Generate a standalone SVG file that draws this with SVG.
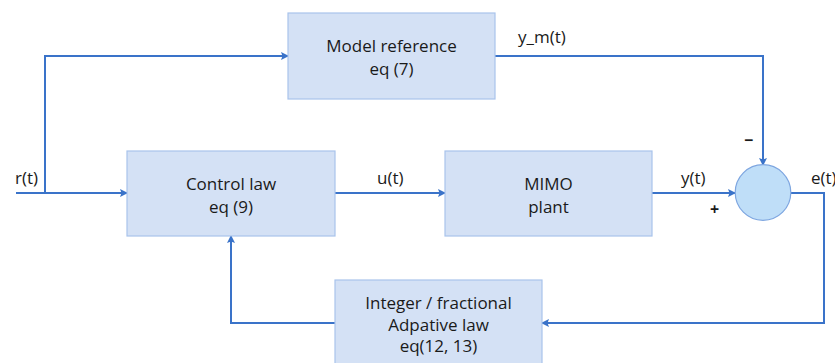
<svg xmlns="http://www.w3.org/2000/svg" width="835" height="363" viewBox="0 0 835 363">
  <style>
    .box { fill: #d4e1f5; stroke: #a9c4eb; stroke-width: 1.2; }
    .sum { fill: #bfdef8; stroke: #7ea6e0; stroke-width: 1.2; }
    .wire { fill: none; stroke: #3a73c9; stroke-width: 2; }
    text { font-family: "Open Sans", "Noto Sans", "DejaVu Sans", sans-serif; font-size: 17px; fill: #1a1a1a; }
    .c { text-anchor: middle; }
    .sign { font-weight: bold; font-size: 16px; }
  </style>
  <defs>
    <marker id="arr" viewBox="0 0 8 8" refX="7" refY="4" markerWidth="4" markerHeight="4" orient="auto" markerUnits="strokeWidth">
      <path d="M0,0 L8,4 L0,8 L1.5,4 Z" fill="#3a73c9"/>
    </marker>
  </defs>

  <!-- connectors -->
  <g id="connectors">
    <path class="wire" d="M16,193 H127" marker-end="url(#arr)"/>
    <path class="wire" d="M45,193 V56 H288" marker-end="url(#arr)"/>
    <path class="wire" d="M495,56 H763 V165" marker-end="url(#arr)"/>
    <path class="wire" d="M335,193 H445" marker-end="url(#arr)"/>
    <path class="wire" d="M652,193 H735" marker-end="url(#arr)"/>
    <path class="wire" d="M791,193 H824 V323 H542" marker-end="url(#arr)"/>
    <path class="wire" d="M335,323 H231 V236" marker-end="url(#arr)"/>
  </g>

  <!-- signal labels -->
  <g id="labels">
    <text x="15" y="184">r(t)</text>
    <text x="518" y="43">y_m(t)</text>
    <text x="377" y="184">u(t)</text>
    <text x="681" y="184">y(t)</text>
    <text x="811" y="184">e(t)</text>
    <text class="sign" x="744" y="146">−</text>
    <text class="sign" x="710" y="215">+</text>
  </g>

  <g id="model-reference">
    <rect class="box" x="288" y="13" width="207" height="86"/>
    <text class="c" x="391.5" y="52">Model reference</text>
    <text class="c" x="391.5" y="75">eq (7)</text>
  </g>

  <g id="control-law">
    <rect class="box" x="127" y="151" width="208" height="85"/>
    <text class="c" x="231" y="190">Control law</text>
    <text class="c" x="231" y="213">eq (9)</text>
  </g>

  <g id="mimo-plant">
    <rect class="box" x="445" y="151" width="207" height="85"/>
    <text class="c" x="548.5" y="190">MIMO</text>
    <text class="c" x="548.5" y="213">plant</text>
  </g>

  <g id="summing-junction">
    <circle class="sum" cx="763" cy="192.5" r="27.8"/>
  </g>

  <g id="adaptive-law">
    <rect class="box" x="335" y="280" width="207" height="90"/>
    <text class="c" x="438.5" y="309">Integer / fractional</text>
    <text class="c" x="438.5" y="330.5">Adpative law</text>
    <text class="c" x="438.5" y="352">eq(12, 13)</text>
  </g>
</svg>
